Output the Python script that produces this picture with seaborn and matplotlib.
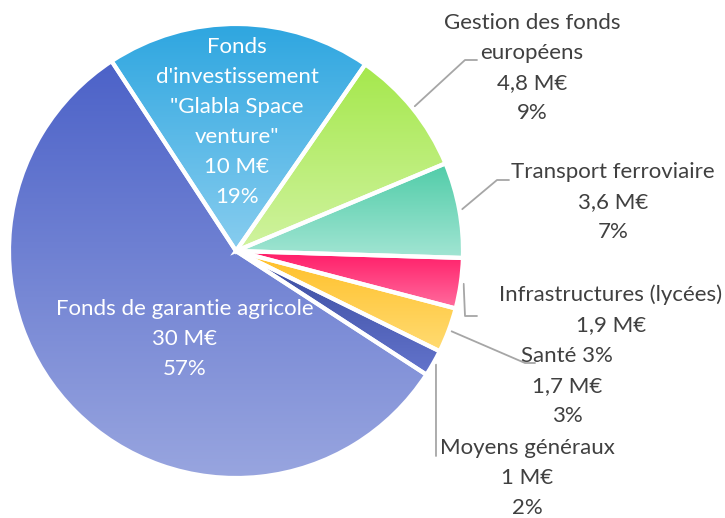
import numpy as np
import matplotlib
matplotlib.use("Agg")
import matplotlib.pyplot as plt
from matplotlib.colors import LinearSegmentedColormap
import seaborn as sns

# données (M€)
categories = ["Fonds de garantie agricole", "Fonds\nd'investissement\n\"Glabla Space\nventure\"",
              "Gestion des fonds\neuropéens", "Transport ferroviaire",
              "Infrastructures (lycées)", "Santé 3%", "Moyens généraux"]
values = [30, 10, 4.8, 3.6, 1.9, 1.7, 1]
show_pct = [True, True, True, True, False, True, True]
top_colors = ["#4c62c8", "#2ea6e0", "#a5e84c", "#50cca8", "#ff1a66", "#ffbf26", "#3a4b9e"]
bottom_colors = ["#98a5df", "#88cdef", "#d0f3a0", "#a2e5d3", "#ff6c9e", "#ffdb72", "#6374cc"]

W, H = 725, 518
sns.set_theme(style="white")
plt.rcParams['font.family'] = ['Lato', 'DejaVu Sans']

fig = plt.figure(figsize=(W / 100, H / 100), dpi=100)
ax = fig.add_axes([0, 0, 1, 1])

cx, cy, R = 236, H - 251, 227
wedges, _ = ax.pie(values, center=(cx, cy), radius=R, startangle=-33,
                   counterclock=False, frame=True,
                   wedgeprops=dict(edgecolor="white", linewidth=3))

# dégradé vertical dans chaque part
grad = np.linspace(0, 1, 256).reshape(-1, 1)
for w, c0, c1 in zip(wedges, top_colors, bottom_colors):
    ext = w.get_path().get_extents()
    cmap = LinearSegmentedColormap.from_list("g", [c0, c1])
    im = ax.imshow(grad, cmap=cmap, extent=(ext.x0, ext.x1, ext.y0, ext.y1),
                   origin="upper", aspect="auto", zorder=2)
    im.set_clip_path(w)
    w.set_facecolor("none")
    w.set_zorder(3)

total = sum(values)
labels = []
for name, v, sp in zip(categories, values, show_pct):
    txt = name + "\n" + f"{v:g}".replace(".", ",") + " M€"
    if sp:
        txt += f"\n{round(v / total * 100):.0f}%"
    labels.append(txt)

# position des étiquettes (pixels de l'image)
label_pos = [(185, 339), (237, 122), (532, 68), (613, 202), (611, 310), (567, 386), (527, 478)]
label_col = ["white", "white", "#404040", "#404040", "#404040", "#404040", "#404040"]
# lignes de rappel : coude puis fin
leaders = {2: [(465, 60), (477, 60)], 3: [(497, 180), (509, 180)],
           4: [(465, 316), (477, 316)], 5: [(525, 363), (535, 363)],
           6: [(436, 456)]}

for i, (txt, (x, y), col) in enumerate(zip(labels, label_pos, label_col)):
    ax.text(x, H - y, txt, ha="center", va="center", color=col,
            fontsize=16, linespacing=1.62, zorder=5)
    if i in leaders:
        w = wedges[i]
        ang = np.deg2rad((w.theta1 + w.theta2) / 2)
        pts = [(cx + (R + 3) * np.cos(ang), cy + (R + 3) * np.sin(ang))]
        pts += [(px, H - py) for px, py in leaders[i]]
        xs, ys = zip(*pts)
        ax.plot(xs, ys, color="#a6a6a6", lw=1.3, zorder=1)

ax.set_xlim(0, W)
ax.set_ylim(0, H)
ax.set_aspect("equal")
ax.axis("off")
fig.savefig("out.png", dpi=100)
